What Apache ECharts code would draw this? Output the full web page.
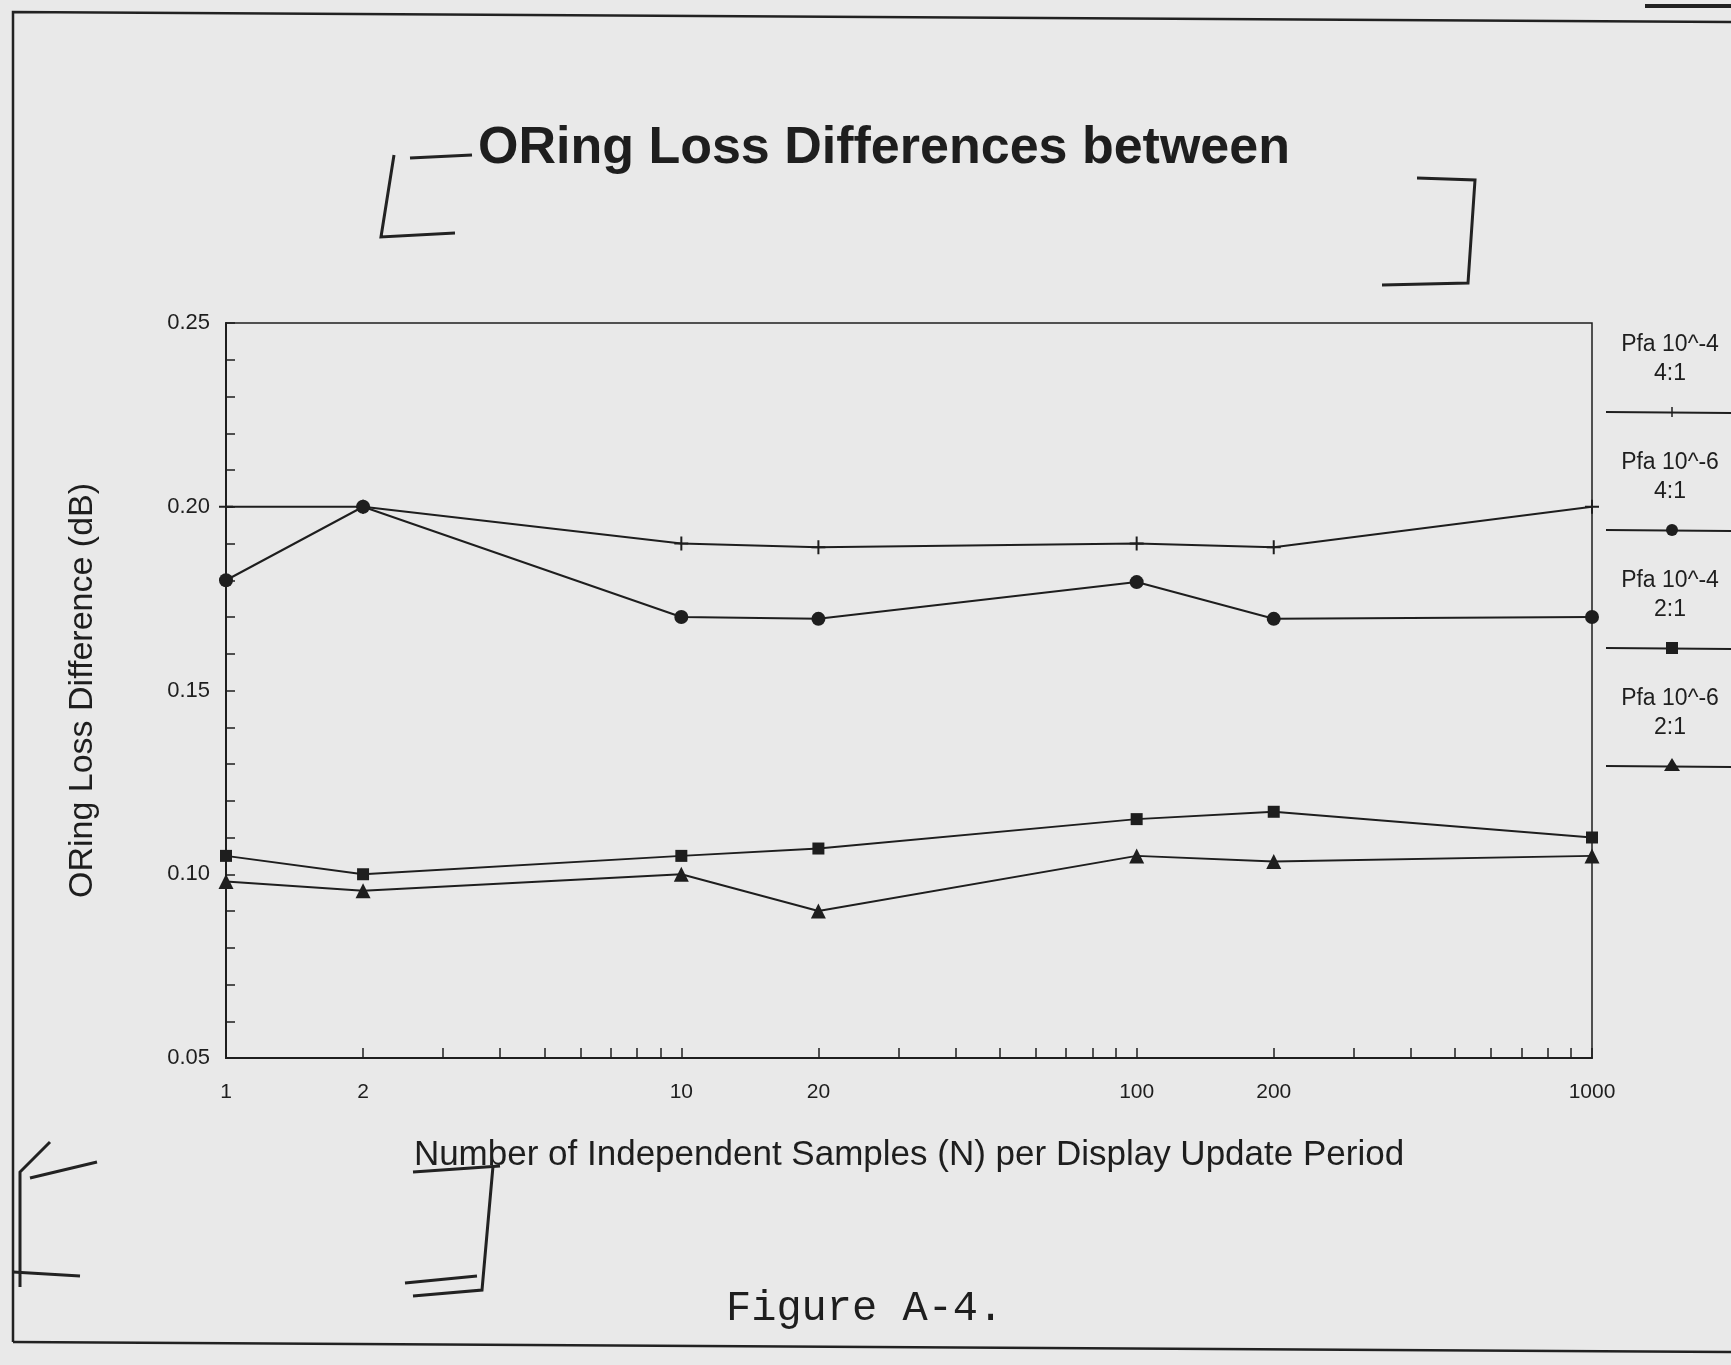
<!DOCTYPE html>
<html>
<head>
<meta charset="utf-8">
<script src="https://cdn.jsdelivr.net/npm/echarts@6/dist/echarts.min.js"></script>
<style>
  html, body { margin: 0; padding: 0; background: #e9e9e9; }
  #chart { width: 1731px; height: 1365px; }
</style>
</head>
<body>
<div id="chart"></div>
<script>
// samples per display update period (x, log scale)
const samplesN = [1, 2, 10, 20, 100, 200, 1000]
const xLabelValues = [1, 2, 10, 20, 100, 200, 1000]
const xTickValues = [1, 2, 3, 4, 5, 6, 7, 8, 9, 10, 20, 30, 40, 50, 60, 70, 80, 90,
  100, 200, 300, 400, 500, 600, 700, 800, 900, 1000]

// loss differences (dB)
const pfa4Ratio4 = [0.200, 0.200, 0.190, 0.189, 0.190, 0.189, 0.200]
const pfa6Ratio4 = [0.180, 0.200, 0.170, 0.1695, 0.1795, 0.1695, 0.170]
const pfa4Ratio2 = [0.105, 0.100, 0.105, 0.107, 0.115, 0.117, 0.110]
const pfa6Ratio2 = [0.098, 0.0955, 0.100, 0.090, 0.105, 0.1035, 0.105]

const seriesNames = ['Pfa 10^-4\n4:1', 'Pfa 10^-6\n4:1', 'Pfa 10^-4\n2:1', 'Pfa 10^-6\n2:1']

const ink = '#1e1e1e'
const plusSymbol = 'path://M-1,-7h2v14h-2z M-7,-1h14v2h-14z'

const chart = echarts.init(document.getElementById('chart'))

const makeSeries = (name, values, symbol, size) => ({
  name: name,
  type: 'line',
  data: samplesN.map((n, i) => [n, values[i]]),
  symbol: symbol,
  symbolSize: size,
  lineStyle: { color: ink, width: 2 },
  itemStyle: { color: ink },
  animation: false
})

// legend drawn by hand: two-line label above a short line with the marker
const legendGraphics = []
const legendTop = [346, 464, 582, 700]
const legendShapes = ['plus', 'circle', 'rect', 'triangle']
legendTop.forEach((y, i) => {
  legendGraphics.push({
    type: 'text', left: 1670 - 60, top: y - 16,
    style: { text: seriesNames[i], font: '23px "Liberation Sans", Arial', fill: ink,
      width: 120, align: 'center', lineHeight: 29, textAlign: 'center' }
  })
  const ly = y + 66
  legendGraphics.push({ type: 'line', shape: { x1: 1606, y1: ly, x2: 1731, y2: ly + 1 },
    style: { stroke: ink, lineWidth: 2 } })
  const s = legendShapes[i]
  if (s === 'circle') legendGraphics.push({ type: 'circle', shape: { cx: 1672, cy: ly, r: 6 }, style: { fill: ink } })
  if (s === 'rect') legendGraphics.push({ type: 'rect', shape: { x: 1666, y: ly - 6, width: 12, height: 12 }, style: { fill: ink } })
  if (s === 'triangle') legendGraphics.push({ type: 'polygon', shape: { points: [[1672, ly - 8], [1664, ly + 5], [1680, ly + 5]] }, style: { fill: ink } })
  if (s === 'plus') legendGraphics.push({ type: 'line', shape: { x1: 1672, y1: ly - 5, x2: 1672, y2: ly + 5 }, style: { stroke: ink, lineWidth: 1.5 } })
})

// scanned page frame and hand-drawn bracket marks
const pen = { stroke: '#222', lineWidth: 3, fill: null }
const marks = [
  { type: 'polyline', shape: { points: [[13, 1342], [13, 12], [1731, 22]] }, style: { stroke: '#222', lineWidth: 2.5, fill: null } },
  { type: 'polyline', shape: { points: [[13, 1342], [1731, 1352]] }, style: { stroke: '#222', lineWidth: 2.5, fill: null } },
  { type: 'line', shape: { x1: 1645, y1: 6, x2: 1731, y2: 6 }, style: { stroke: '#222', lineWidth: 4 } },
  { type: 'polyline', shape: { points: [[394, 155], [381, 237], [455, 233]] }, style: pen },
  { type: 'line', shape: { x1: 410, y1: 158, x2: 472, y2: 155 }, style: pen },
  { type: 'polyline', shape: { points: [[1417, 178], [1475, 180], [1468, 283], [1382, 285]] }, style: pen },
  { type: 'polyline', shape: { points: [[50, 1142], [20, 1172], [20, 1287]] }, style: pen },
  { type: 'line', shape: { x1: 30, y1: 1178, x2: 97, y2: 1162 }, style: pen },
  { type: 'line', shape: { x1: 13, y1: 1272, x2: 80, y2: 1276 }, style: pen },
  { type: 'line', shape: { x1: 413, y1: 1172, x2: 500, y2: 1166 }, style: pen },
  { type: 'polyline', shape: { points: [[493, 1166], [482, 1290], [413, 1296]] }, style: pen },
  { type: 'line', shape: { x1: 405, y1: 1283, x2: 477, y2: 1276 }, style: pen }
]

chart.setOption({
  backgroundColor: '#e9e9e9',
  animation: false,
  title: {
    text: 'ORing Loss Differences between',
    left: 473, top: 118,
    textStyle: { fontFamily: '"Liberation Sans", Arial', fontWeight: 'bold', fontSize: 52, color: ink }
  },
  grid: {
    left: 226, top: 323, width: 1366, height: 735,
    show: true, borderColor: ink, borderWidth: 1.5, backgroundColor: 'transparent'
  },
  xAxis: {
    type: 'log',
    logBase: 10,
    min: 1, max: 1000,
    name: 'Number of Independent Samples (N) per Display Update Period',
    nameLocation: 'middle',
    nameGap: 80,
    nameTextStyle: { fontFamily: '"Liberation Sans", Arial', fontSize: 35, color: ink },
    axisLine: { lineStyle: { color: ink, width: 2 } },
    axisTick: { inside: true, length: 10, customValues: xTickValues, lineStyle: { color: ink, width: 1.5 } },
    axisLabel: { customValues: xLabelValues, formatter: v => String(v), margin: 24,
      fontFamily: '"Liberation Sans", Arial', fontSize: 21, color: ink },
    splitLine: { show: false }
  },
  yAxis: {
    type: 'value',
    min: 0.05, max: 0.25, interval: 0.05,
    name: 'ORing Loss Difference (dB)',
    nameLocation: 'middle',
    nameGap: 126,
    nameTextStyle: { fontFamily: '"Liberation Sans", Arial', fontSize: 34, color: ink },
    axisLine: { show: true, lineStyle: { color: ink, width: 2 } },
    axisTick: { inside: true, length: 9, lineStyle: { color: ink, width: 1.5 } },
    minorTick: { show: true, splitNumber: 5, length: 9, lineStyle: { color: ink, width: 1.5 } },
    axisLabel: { formatter: v => v.toFixed(2), margin: 16, fontFamily: '"Liberation Sans", Arial', fontSize: 22, color: ink },
    splitLine: { show: false }
  },
  graphic: legendGraphics.concat(marks).concat([
    { type: 'text', left: 726, top: 1288,
      style: { text: 'Figure A-4.', font: '42px "Liberation Mono", "Courier New", monospace', fill: ink } }
  ]),
  series: [
    makeSeries(seriesNames[0], pfa4Ratio4, plusSymbol, 14),
    makeSeries(seriesNames[1], pfa6Ratio4, 'circle', 14),
    makeSeries(seriesNames[2], pfa4Ratio2, 'rect', 12),
    makeSeries(seriesNames[3], pfa6Ratio2, 'triangle', 15)
  ]
})
</script>
</body>
</html>
